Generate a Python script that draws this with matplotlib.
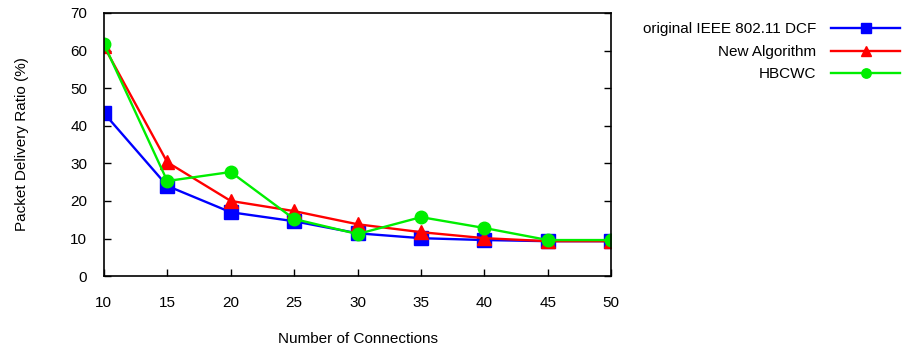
import matplotlib.pyplot as plt

plt.rcParams['font.family'] = ['Liberation Sans', 'DejaVu Sans']
plt.rcParams['font.size'] = 11

connections = [10, 15, 20, 25, 30, 35, 40, 45, 50]
dcf = [43.4, 24.0, 17.0, 14.6, 11.4, 10.1, 9.6, 9.3, 9.3]
new_alg = [61.2, 30.3, 20.0, 17.3, 13.8, 11.7, 10.1, 9.3, 9.3]
hbcwc = [61.8, 25.3, 27.7, 15.2, 11.2, 15.7, 12.8, 9.6, 9.6]

fig = plt.figure(figsize=(9.03, 3.5), dpi=100)
ax = fig.add_axes([0.115, 0.211, 0.562, 0.752])

ax.plot(connections, dcf, color='#0000ff', lw=1.7, marker='s', ms=10,
        label='original IEEE 802.11 DCF')
ax.plot(connections, new_alg, color='#ff0000', lw=1.7, marker='^', ms=10,
        label='New Algorithm')
ax.plot(connections, hbcwc, color='#00ee00', lw=1.7, marker='o', ms=9,
        label='HBCWC')

ax.set_xlim(10, 50)
ax.set_ylim(0, 70)
ax.set_xticks(connections)
ax.set_yticks(range(0, 71, 10))
ax.tick_params(direction='in', length=5, width=1, right=True, top=False)
ax.tick_params(axis='x', pad=14)
ax.tick_params(axis='y', pad=12)
for s in ax.spines.values():
    s.set_linewidth(1.2)

ax.set_xlabel('Number of Connections', labelpad=16)
ax.set_ylabel('Packet Delivery Ratio (%)', labelpad=30)

fig.legend(loc='upper right', bbox_to_anchor=(1.012, 0.975), frameon=False,
           markerfirst=False, handlelength=4.5, handletextpad=1.0,
           labelspacing=0.55, markerscale=0.75)

fig.savefig('out.png', dpi=100)
